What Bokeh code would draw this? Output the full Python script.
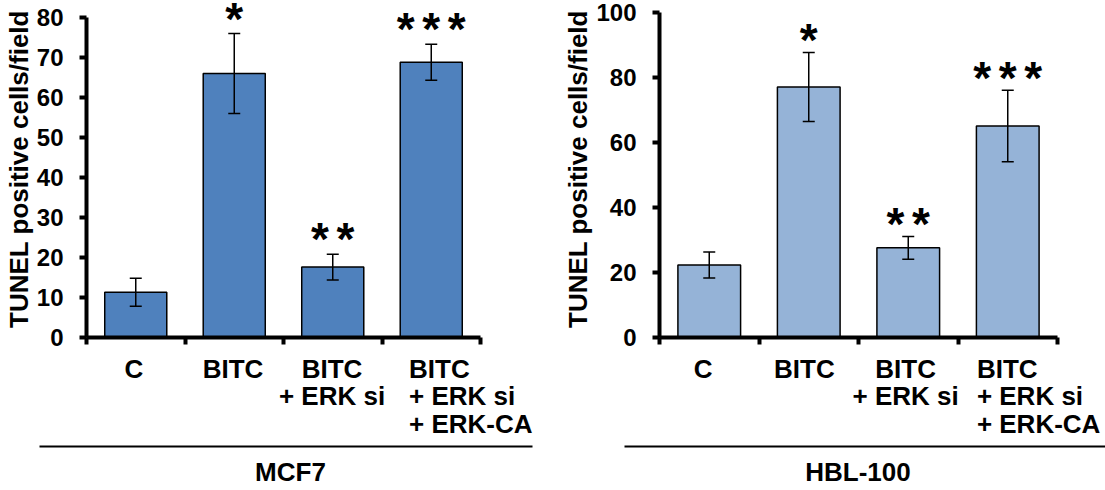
from bokeh.plotting import figure
from bokeh.models import Range1d, FixedTicker, Whisker, TeeHead, ColumnDataSource
from bokeh.layouts import row, column
from bokeh.embed import file_html
from bokeh.resources import INLINE
from bokeh.core.properties import value

# Treatment groups (shared by both cell lines)
categories = ["C", "BITC", "BITC\n+ ERK si", "BITC\n+ ERK si\n+ ERK-CA"]

# MCF7: TUNEL positive cells per field, mean and error
mcf7_mean = [11.3, 66.0, 17.6, 68.8]
mcf7_err = [3.5, 10.0, 3.2, 4.5]
mcf7_marks = ["", "*", "*\u2006*", "*\u2006*\u2006*"]
mcf7_ticks = [0, 10, 20, 30, 40, 50, 60, 70, 80]

# HBL-100: TUNEL positive cells per field, mean and error
hbl_mean = [22.3, 77.1, 27.6, 65.1]
hbl_err = [4.0, 10.6, 3.5, 11.0]
hbl_marks = ["", "*", "*\u2006*", "*\u2006*\u2006*"]
hbl_ticks = [0, 20, 40, 60, 80, 100]

FONT = "Liberation Sans"
FRAME_H = 337         # plot frame height, zero line at its bottom
MAIN_H = 350
TOTAL_H = 490
STRIP_H = TOTAL_H - MAIN_H


def bar_panel(means, errs, marks, ticks, top_px, color, width, left, right, mark_gap):
    n = len(categories)
    view_top = ticks[-1] * FRAME_H / (FRAME_H - top_px)
    p = figure(width=width, height=MAIN_H,
               x_range=Range1d(0, n), y_range=Range1d(0, view_top),
               output_backend="svg", toolbar_location=None,
               min_border_left=left, min_border_right=right,
               min_border_top=0, min_border_bottom=MAIN_H - FRAME_H)
    p.frame_align = False
    p.outline_line_color = None
    p.grid.visible = False
    p.background_fill_color = "white"
    p.border_fill_color = "white"

    centers = [i + 0.5 for i in range(n)]
    src = ColumnDataSource(dict(
        x=centers, top=means,
        upper=[m + e for m, e in zip(means, errs)],
        lower=[m - e for m, e in zip(means, errs)],
        marks=marks))

    p.vbar(x="x", top="top", width=0.63, bottom=0, source=src,
           fill_color=color, line_color="black", line_width=1.5)

    wh = Whisker(base="x", upper="upper", lower="lower", source=src,
                 line_color="black", line_width=1.5, level="annotation",
                 upper_head=TeeHead(size=12, line_width=1.5, line_color="black"),
                 lower_head=TeeHead(size=12, line_width=1.5, line_color="black"))
    p.add_layout(wh)

    # significance asterisks above the error bars
    p.text(x="x", y="upper", text="marks", source=src,
           text_align="center", text_baseline="alphabetic",
           y_offset=8 - mark_gap,
           text_font=value(FONT), text_font_style="bold",
           text_font_size="46px", text_color="black")

    # value axis
    ya = p.yaxis[0]
    ya.ticker = FixedTicker(ticks=ticks)
    ya.bounds = (ticks[0], ticks[-1])
    ya.axis_line_width = 4
    ya.major_tick_line_width = 4
    ya.major_tick_out = 7
    ya.major_tick_in = 0
    ya.minor_tick_line_color = None
    ya.major_label_text_font = FONT
    ya.major_label_text_font_style = "bold"
    ya.major_label_text_font_size = "24px"
    ya.major_label_text_color = "black"
    ya.major_label_standoff = 16
    ya.axis_label = "TUNEL positive cells/field"
    ya.axis_label_text_font = FONT
    ya.axis_label_text_font_style = "bold"
    ya.axis_label_text_font_size = "26px"
    ya.axis_label_text_color = "black"
    ya.axis_label_standoff = 0

    # category axis line with tick marks between the groups
    xa = p.xaxis[0]
    xa.ticker = FixedTicker(ticks=list(range(n + 1)))
    xa.major_label_overrides = {i: "" for i in range(n + 1)}
    xa.major_label_text_font_size = "0px"
    xa.major_label_standoff = 0
    xa.axis_line_width = 4
    xa.major_tick_line_width = 4
    xa.major_tick_out = 7
    xa.major_tick_in = 0
    xa.minor_tick_line_color = None
    return p


def label_strip(name, width, left, right, ext_left, ext_right, name_shift, align_shift):
    """Category names, group bracket line and cell-line name under a panel."""
    n = len(categories)
    cw = (width - left - right) / n          # pixels per category
    b = figure(width=width, height=STRIP_H,
               x_range=Range1d(-left / cw, (width - left) / cw),
               y_range=Range1d(0, STRIP_H),
               output_backend="svg", toolbar_location=None,
               min_border_left=0, min_border_right=0,
               min_border_top=0, min_border_bottom=0)
    b.frame_align = False
    b.outline_line_color = None
    b.axis.visible = False
    b.grid.visible = False
    b.background_fill_color = "white"
    b.border_fill_color = "white"

    centers = [i + 0.5 for i in range(n)]
    aligns = ["center"] * (n - 1) + ["left"]
    src = ColumnDataSource(dict(x=centers, text=categories, align=aligns,
                                dx=[0] * (n - 1) + [align_shift]))
    b.text(x="x", y=STRIP_H - 3, text="text", source=src,
           text_align="align", x_offset="dx", text_baseline="top",
           text_line_height=0.93,
           text_font=value(FONT), text_font_style="bold",
           text_font_size="26px", text_color="black")

    y_line = STRIP_H - 96
    b.segment(x0=[-ext_left / cw], y0=[y_line], x1=[n + ext_right / cw], y1=[y_line],
              line_color="black", line_width=2)
    b.text(x=[n / 2 + name_shift / cw], y=[y_line - 25], text=[name],
           text_align="center", text_baseline="middle",
           text_font=value(FONT), text_font_style="bold",
           text_font_size="26px", text_color="black")
    return b


left_main = bar_panel(mcf7_mean, mcf7_err, mcf7_marks, mcf7_ticks, 17,
                      "#4F81BD", 560, 84, 80, 23)
left_strip = label_strip("MCF7", 560, 84, 80, 45, 52, 8, -22)

right_main = bar_panel(hbl_mean, hbl_err, hbl_marks, hbl_ticks, 12,
                       "#95B3D7", 545, 92, 48, 20)
right_strip = label_strip("HBL-100", 545, 92, 48, 28, 60, 3, -30)

layout = row(column(left_main, left_strip, spacing=0),
             column(right_main, right_strip, spacing=0), spacing=0)

open("out.html", "w").write(file_html(layout, INLINE))
